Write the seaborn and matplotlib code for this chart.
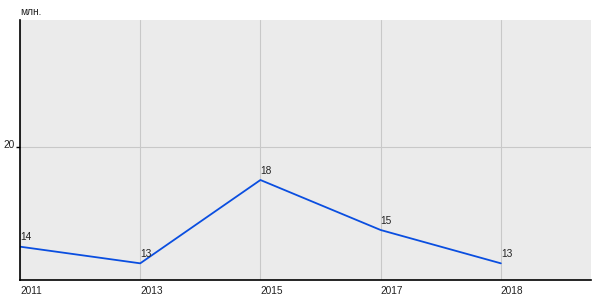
import matplotlib
matplotlib.use("Agg")
import matplotlib.pyplot as plt
import matplotlib.transforms as mtransforms
import seaborn as sns
import pandas as pd

years = ["2011", "2013", "2015", "2017", "2018"]
values = [14, 13, 18, 15, 13]
y_ticks = [20]
unit_label = "млн."

sns.set_style("white")
plt.rcParams["font.family"] = ["Liberation Sans", "DejaVu Sans"]

df = pd.DataFrame({"pos": range(len(years)), "value": values, "year": years})

fig = plt.figure(figsize=(6, 3), dpi=100)
ax = fig.add_axes([20 / 600, 20 / 300, 571 / 600, 260 / 300])
ax.set_facecolor("#ebebeb")

sns.lineplot(data=df, x="pos", y="value", ax=ax, color="#0a4ee0", linewidth=1.3)

for p, v in zip(df["pos"], df["value"]):
    ax.annotate(str(v), (p, v), xytext=(0, 3), textcoords="offset points",
                ha="left", va="bottom", fontsize=7.3, color="#222222")

ax.set_xlim(0, 4.75)
ax.set_ylim(12, 27.6)
ax.set_xticks(df["pos"])
ax.set_xticklabels(years, ha="left")
ax.set_yticks(y_ticks)
ax.grid(True, color="#c8c8c8", linewidth=0.8)
ax.set_axisbelow(True)
ax.tick_params(axis="x", bottom=False, length=0, labelsize=7.3, pad=4, colors="#222222")
ax.tick_params(axis="y", left=True, length=2.8, width=1.0, labelsize=7.3, pad=0.8,
               labelcolor="#222222", color="black")
offset = mtransforms.ScaledTranslation(0, 3 / 100, fig.dpi_scale_trans)
for lbl in ax.get_yticklabels():
    lbl.set_transform(lbl.get_transform() + offset)
for s in ["top", "right"]:
    ax.spines[s].set_visible(False)
for s in ["left", "bottom"]:
    ax.spines[s].set_color("black")
    ax.spines[s].set_linewidth(1.2)
ax.set_xlabel("")
ax.set_ylabel("")
fig.text(20 / 600, 1 - 12 / 300, unit_label, fontsize=7.3, ha="left", va="center", color="#222222")

fig.savefig("out.png", dpi=100)
